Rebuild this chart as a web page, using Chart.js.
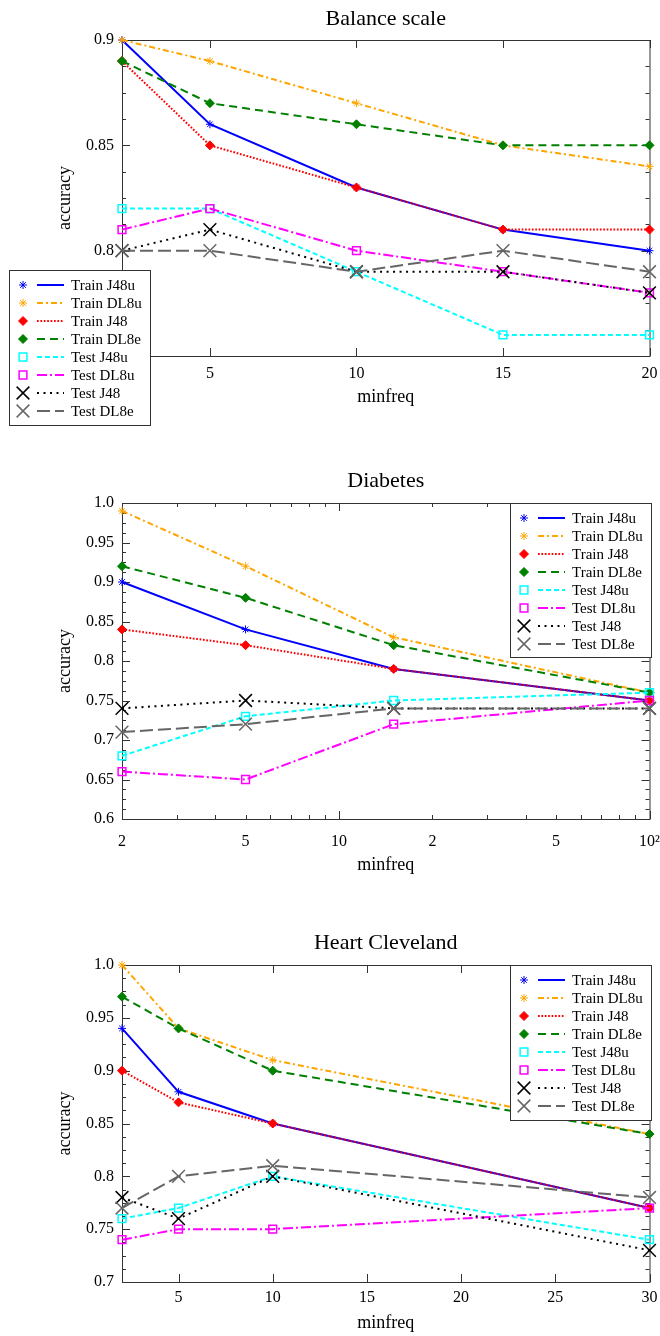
<!DOCTYPE html>
<html>
<head>
<meta charset="utf-8">
<script src="https://cdn.jsdelivr.net/npm/chart.js@4/dist/chart.umd.min.js"></script>
<style>
  html, body { margin: 0; padding: 0; background: #fff; }
  .panel { position: absolute; left: 0; width: 660px; }
</style>
</head>
<body>
<div class="panel" style="top:0;height:445px"><canvas id="balance" width="660" height="445"></canvas></div>
<div class="panel" style="top:445px;height:445px"><canvas id="diabetes" width="660" height="445"></canvas></div>
<div class="panel" style="top:890px;height:446px"><canvas id="heart" width="660" height="446"></canvas></div>
<script>
const seriesNames = ['Train J48u', 'Train DL8u', 'Train J48', 'Train DL8e', 'Test J48u', 'Test DL8u', 'Test J48', 'Test DL8e'];

// Balance scale
const balanceX = [2, 5, 10, 15, 20];
const balanceTrainJ48u = [0.90, 0.86, 0.83, 0.81, 0.80];
const balanceTrainDL8u = [0.90, 0.89, 0.87, 0.85, 0.84];
const balanceTrainJ48 = [0.89, 0.85, 0.83, 0.81, 0.81];
const balanceTrainDL8e = [0.89, 0.87, 0.86, 0.85, 0.85];
const balanceTestJ48u = [0.82, 0.82, 0.79, 0.76, 0.76];
const balanceTestDL8u = [0.81, 0.82, 0.80, 0.79, 0.78];
const balanceTestJ48 = [0.80, 0.81, 0.79, 0.79, 0.78];
const balanceTestDL8e = [0.80, 0.80, 0.79, 0.80, 0.79];
const balanceXTicks = [5, 10, 15, 20];
const balanceXLabels = ['5', '10', '15', '20'];
const balanceYTicks = [0.75, 0.8, 0.85, 0.9];
const balanceYLabels = ['0.75', '0.8', '0.85', '0.9'];

// Diabetes (log x)
const diabetesX = [2, 5, 15, 100];
const diabetesTrainJ48u = [0.90, 0.84, 0.79, 0.75];
const diabetesTrainDL8u = [0.99, 0.92, 0.83, 0.76];
const diabetesTrainJ48 = [0.84, 0.82, 0.79, 0.75];
const diabetesTrainDL8e = [0.92, 0.88, 0.82, 0.76];
const diabetesTestJ48u = [0.68, 0.73, 0.75, 0.76];
const diabetesTestDL8u = [0.66, 0.65, 0.72, 0.75];
const diabetesTestJ48 = [0.74, 0.75, 0.74, 0.74];
const diabetesTestDL8e = [0.71, 0.72, 0.74, 0.74];
const diabetesXTicks = [2, 5, 10, 20, 50, 100];
const diabetesXLabels = ['2', '5', '10', '2', '5', '10²'];
const diabetesYTicks = [0.6, 0.65, 0.7, 0.75, 0.8, 0.85, 0.9, 0.95, 1.0];
const diabetesYLabels = ['0.6', '0.65', '0.7', '0.75', '0.8', '0.85', '0.9', '0.95', '1.0'];

// Heart Cleveland
const heartX = [2, 5, 10, 30];
const heartTrainJ48u = [0.94, 0.88, 0.85, 0.77];
const heartTrainDL8u = [1.00, 0.94, 0.91, 0.84];
const heartTrainJ48 = [0.90, 0.87, 0.85, 0.77];
const heartTrainDL8e = [0.97, 0.94, 0.90, 0.84];
const heartTestJ48u = [0.76, 0.77, 0.80, 0.74];
const heartTestDL8u = [0.74, 0.75, 0.75, 0.77];
const heartTestJ48 = [0.78, 0.76, 0.80, 0.73];
const heartTestDL8e = [0.77, 0.80, 0.81, 0.78];
const heartXTicks = [5, 10, 15, 20, 25, 30];
const heartXLabels = ['5', '10', '15', '20', '25', '30'];
const heartYTicks = [0.7, 0.75, 0.8, 0.85, 0.9, 0.95, 1.0];
const heartYLabels = ['0.7', '0.75', '0.8', '0.85', '0.9', '0.95', '1.0'];

const FONT = 'Liberation Serif';

// gnuplot-ish line / point styles, same order as seriesNames
const styles = [
    { color: '#0000ff', dash: [], point: 'star', r: 4, pw: 1 },
    { color: '#ffa500', dash: [6, 3, 2, 3], point: 'star', r: 4, pw: 1 },
    { color: '#ff0000', dash: [1.7, 1.7], point: 'rectRot', r: 4.5, pw: 1, fill: true },
    { color: '#008000', dash: [8, 5], point: 'rectRot', r: 4.5, pw: 1, fill: true },
    { color: '#00ffff', dash: [5, 3], point: 'rect', r: 5.5, pw: 1.5 },
    { color: '#ff00ff', dash: [10, 3, 2, 3], point: 'rect', r: 5.5, pw: 1.5 },
    { color: '#000000', dash: [2, 4.5], point: 'crossRot', r: 9, pw: 1.5 },
    { color: '#666666', dash: [13, 5], point: 'crossRot', r: 9, pw: 1.5 }
];

function makeDatasets(xs, series) {
    return series.map((ys, i) => {
        const s = styles[i];
        return {
            label: seriesNames[i],
            data: xs.map((x, k) => ({ x: x, y: ys[k] })),
            borderColor: s.color,
            backgroundColor: s.color,
            borderWidth: 2,
            borderDash: s.dash,
            pointStyle: s.point,
            pointRadius: s.r,
            pointBorderWidth: s.pw,
            pointBorderColor: s.color,
            pointBackgroundColor: s.fill ? s.color : 'rgba(0,0,0,0)',
            tension: 0,
            clip: false,
            order: seriesNames.length - i   // later series on top, like gnuplot
        };
    });
}

function drawMarker(ctx, s, x, y) {
    ctx.setLineDash([]);
    ctx.strokeStyle = s.color;
    ctx.fillStyle = s.fill ? s.color : 'rgba(0,0,0,0)';
    ctx.lineWidth = s.pw;
    Chart.helpers.drawPoint(ctx, { pointStyle: s.point, radius: s.r, borderWidth: s.pw, rotation: 0 }, x, y);
}

// border box + inward ticks on all four sides
const framePlugin = {
    id: 'frame',
    beforeDatasetsDraw(chart, args, opts) {
        const { ctx, chartArea: a } = chart;
        const xs = chart.scales.x, ys = chart.scales.y;
        ctx.save();
        ctx.strokeStyle = '#333';
        ctx.lineWidth = 1;
        ctx.strokeRect(a.left + 0.5, a.top + 0.5, a.right - a.left, a.bottom - a.top);
        ctx.beginPath();
        const xt = (v, len) => {
            const p = Math.round(xs.getPixelForValue(v)) + 0.5;
            ctx.moveTo(p, a.bottom); ctx.lineTo(p, a.bottom - len);
            ctx.moveTo(p, a.top); ctx.lineTo(p, a.top + len);
        };
        const yt = (v, len) => {
            const p = Math.round(ys.getPixelForValue(v)) + 0.5;
            ctx.moveTo(a.left, p); ctx.lineTo(a.left + len, p);
            ctx.moveTo(a.right, p); ctx.lineTo(a.right - len, p);
        };
        opts.xMajor.forEach(v => xt(v, 8));
        opts.xMinor.forEach(v => xt(v, 4));
        for (let v = ys.min; v <= ys.max + 1e-9; v += opts.yStep) {
            const major = Math.abs(v / (opts.yStep * 4) - Math.round(v / (opts.yStep * 4))) < 1e-6;
            yt(v, major ? 8 : 4);
        }
        ctx.stroke();
        ctx.restore();
    },
    afterDatasetsDraw(chart, args, opts) {
        const L = opts.legend;
        const ctx = chart.ctx;
        ctx.save();
        ctx.fillStyle = '#fff';
        ctx.fillRect(L.left, L.top, L.width, L.height);
        ctx.strokeStyle = '#333';
        ctx.lineWidth = 1;
        ctx.strokeRect(L.left + 0.5, L.top + 0.5, L.width, L.height);
        ctx.font = '15px "' + FONT + '"';
        ctx.textBaseline = 'middle';
        ctx.textAlign = 'left';
        chart.data.datasets.forEach((ds, i) => {
            const s = styles[i];
            const y = L.top + 15 + i * 18;
            drawMarker(ctx, s, L.left + 14, y);
            ctx.beginPath();
            ctx.setLineDash(s.dash);
            ctx.strokeStyle = s.color;
            ctx.lineWidth = 2;
            ctx.moveTo(L.left + 28, y);
            ctx.lineTo(L.left + 55, y);
            ctx.stroke();
            ctx.setLineDash([]);
            ctx.fillStyle = '#000';
            ctx.fillText(ds.label, L.left + 62, y + 1);
        });
        ctx.restore();
    }
};

function buildChart(id, cfg) {
    const ctx = document.getElementById(id).getContext('2d');
    return new Chart(ctx, {
        type: 'line',
        data: { datasets: makeDatasets(cfg.xs, cfg.series) },
        plugins: [framePlugin],
        options: {
            responsive: false,
            animation: false,
            events: [],
            layout: { padding: { left: 0, right: 9, top: 0, bottom: cfg.padBottom } },
            plugins: {
                legend: { display: false },
                tooltip: { enabled: false },
                title: {
                    display: true,
                    text: cfg.title,
                    fullSize: false,
                    color: '#000',
                    font: { family: FONT, size: 22, weight: 'normal' },
                    padding: { top: cfg.titleTop, bottom: cfg.titleBottom }
                },
                frame: { xMajor: cfg.xMajor, xMinor: cfg.xMinor, yStep: 0.0125, legend: cfg.legend }
            },
            scales: {
                x: {
                    type: cfg.xType,
                    min: cfg.xMin,
                    max: cfg.xMax,
                    afterBuildTicks: s => { s.ticks = cfg.xTicks.map(v => ({ value: v })); },
                    afterFit: s => { s.height = cfg.xHeight; s.paddingLeft = 0; s.paddingRight = 0; },
                    grid: { display: false, drawTicks: false },
                    border: { display: false },
                    ticks: {
                        autoSkip: false, maxRotation: 0, padding: cfg.xTickPad, color: '#000',
                        font: { family: FONT, size: 16 },
                        callback: v => cfg.xLabels[cfg.xTicks.indexOf(v)]
                    },
                    title: {
                        display: true, text: 'minfreq', color: '#000',
                        font: { family: FONT, size: 18 },
                        padding: { top: 0, bottom: cfg.xTitlePad }
                    }
                },
                y: {
                    min: cfg.yMin,
                    max: cfg.yMax,
                    afterBuildTicks: s => { s.ticks = cfg.yTicks.map(v => ({ value: v })); },
                    afterFit: s => { s.width = 122; s.paddingTop = 0; s.paddingBottom = 0; },
                    grid: { display: false, drawTicks: false },
                    border: { display: false },
                    ticks: {
                        autoSkip: false, padding: 8, color: '#000',
                        font: { family: FONT, size: 16 },
                        callback: v => cfg.yLabels[cfg.yTicks.indexOf(v)]
                    },
                    title: {
                        display: true, text: 'accuracy', color: '#000',
                        font: { family: FONT, size: 18 },
                        padding: { top: 54, bottom: 0 }
                    }
                }
            }
        }
    });
}

buildChart('balance', {
    title: 'Balance scale',
    xs: balanceX,
    series: [balanceTrainJ48u, balanceTrainDL8u, balanceTrainJ48, balanceTrainDL8e,
             balanceTestJ48u, balanceTestDL8u, balanceTestJ48, balanceTestDL8e],
    xType: 'linear', xMin: 2, xMax: 20,
    xTicks: balanceXTicks, xLabels: balanceXLabels, xMajor: balanceXTicks, xMinor: [],
    yMin: 0.75, yMax: 0.9, yTicks: balanceYTicks, yLabels: balanceYLabels,
    titleTop: 5.8, titleBottom: 7.8,
    xHeight: 60, padBottom: 29, xTickPad: 8.4, xTitlePad: 8.2,
    legend: { left: 9, top: 270, width: 141, height: 155 }
});

buildChart('diabetes', {
    title: 'Diabetes',
    xs: diabetesX,
    series: [diabetesTrainJ48u, diabetesTrainDL8u, diabetesTrainJ48, diabetesTrainDL8e,
             diabetesTestJ48u, diabetesTestDL8u, diabetesTestJ48, diabetesTestDL8e],
    xType: 'logarithmic', xMin: 2, xMax: 100,
    xTicks: diabetesXTicks, xLabels: diabetesXLabels, xMajor: [10, 100],
    xMinor: [3, 4, 5, 6, 7, 8, 9, 20, 30, 40, 50, 60, 70, 80, 90],
    yMin: 0.6, yMax: 1.0, yTicks: diabetesYTicks, yLabels: diabetesYLabels,
    titleTop: 22.8, titleBottom: 8.8,
    xHeight: 60, padBottom: 11, xTickPad: 13.4, xTitlePad: 3.2,
    legend: { left: 510, top: 58, width: 141, height: 154 }
});

buildChart('heart', {
    title: 'Heart Cleveland',
    xs: heartX,
    series: [heartTrainJ48u, heartTrainDL8u, heartTrainJ48, heartTrainDL8e,
             heartTestJ48u, heartTestDL8u, heartTestJ48, heartTestDL8e],
    xType: 'linear', xMin: 2, xMax: 30,
    xTicks: heartXTicks, xLabels: heartXLabels, xMajor: heartXTicks, xMinor: [],
    yMin: 0.7, yMax: 1.0, yTicks: heartYTicks, yLabels: heartYLabels,
    titleTop: 39.8, titleBottom: 8.8,
    xHeight: 54, padBottom: 0, xTickPad: 6.4, xTitlePad: 2.2,
    legend: { left: 510, top: 75, width: 141, height: 155 }
});
</script>
</body>
</html>
